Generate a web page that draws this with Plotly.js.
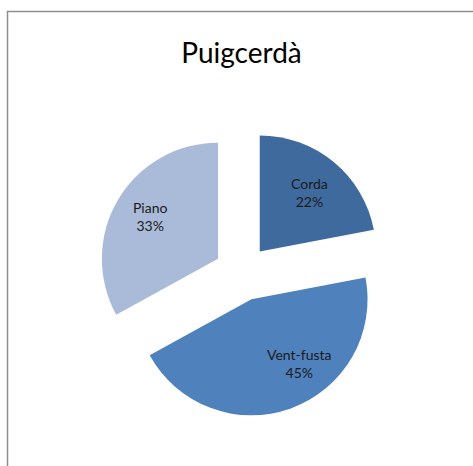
<!DOCTYPE html>
<html>
<head>
<meta charset="utf-8">
<script src="https://cdn.plot.ly/plotly-3.0.1.min.js"></script>
<style>html,body{margin:0;padding:0;background:#fff;}#chart{width:473px;height:466px;}</style>
</head>
<body>
<div id="chart"></div>
<script>
const categories = ["Corda", "Vent-fusta", "Piano"];
const values = [22, 45, 33];
const sliceColors = ["#3F6A9E", "#4F81BD", "#AABAD9"];
const chartTitle = "Puigcerdà";
// label anchor positions (pixels) for the data labels
const labelPosPx = [[309, 192], [299.5, 363.5], [150, 216]];

const W = 473, H = 466;
const total = values.reduce((a, b) => a + b, 0);
const FONT = "Lato, Open Sans, sans-serif";

const data = [{
  type: "pie",
  labels: categories,
  values: values,
  sort: false,
  direction: "clockwise",
  rotation: 0,
  pull: [0.24, 0.24, 0.24],
  marker: { colors: sliceColors, line: { width: 0 } },
  textinfo: "none",
  hoverinfo: "none",
  showlegend: false,
  domain: { x: [98 / W, 386 / W], y: [49 / H, 337 / H] }
}];

const annotations = categories.map((c, i) => ({
  xref: "paper", yref: "paper",
  x: labelPosPx[i][0] / W, y: 1 - labelPosPx[i][1] / H,
  xanchor: "center", yanchor: "middle",
  text: c + "<br>" + Math.round(values[i] / total * 100) + "%",
  showarrow: false,
  font: { family: FONT, size: 14, color: "#1a1a1a" }
}));

const layout = {
  width: W, height: H,
  margin: { l: 0, r: 0, t: 0, b: 0 },
  paper_bgcolor: "#ffffff",
  plot_bgcolor: "#ffffff",
  showlegend: false,
  title: {
    text: chartTitle,
    font: { family: FONT, size: 28, color: "#000000" },
    x: 241.5 / W, xanchor: "center",
    y: 1 - 53 / H, yanchor: "middle",
    xref: "paper", yref: "container"
  },
  annotations: annotations,
  shapes: [{
    type: "rect", xref: "paper", yref: "paper",
    x0: 7.5 / W, x1: 1.2, y0: -0.2, y1: 1 - 11.5 / H,
    line: { color: "#8f8f8f", width: 1.5 },
    fillcolor: "rgba(0,0,0,0)"
  }]
};

Plotly.newPlot("chart", data, layout, { displayModeBar: false, staticPlot: true });
</script>
</body>
</html>
